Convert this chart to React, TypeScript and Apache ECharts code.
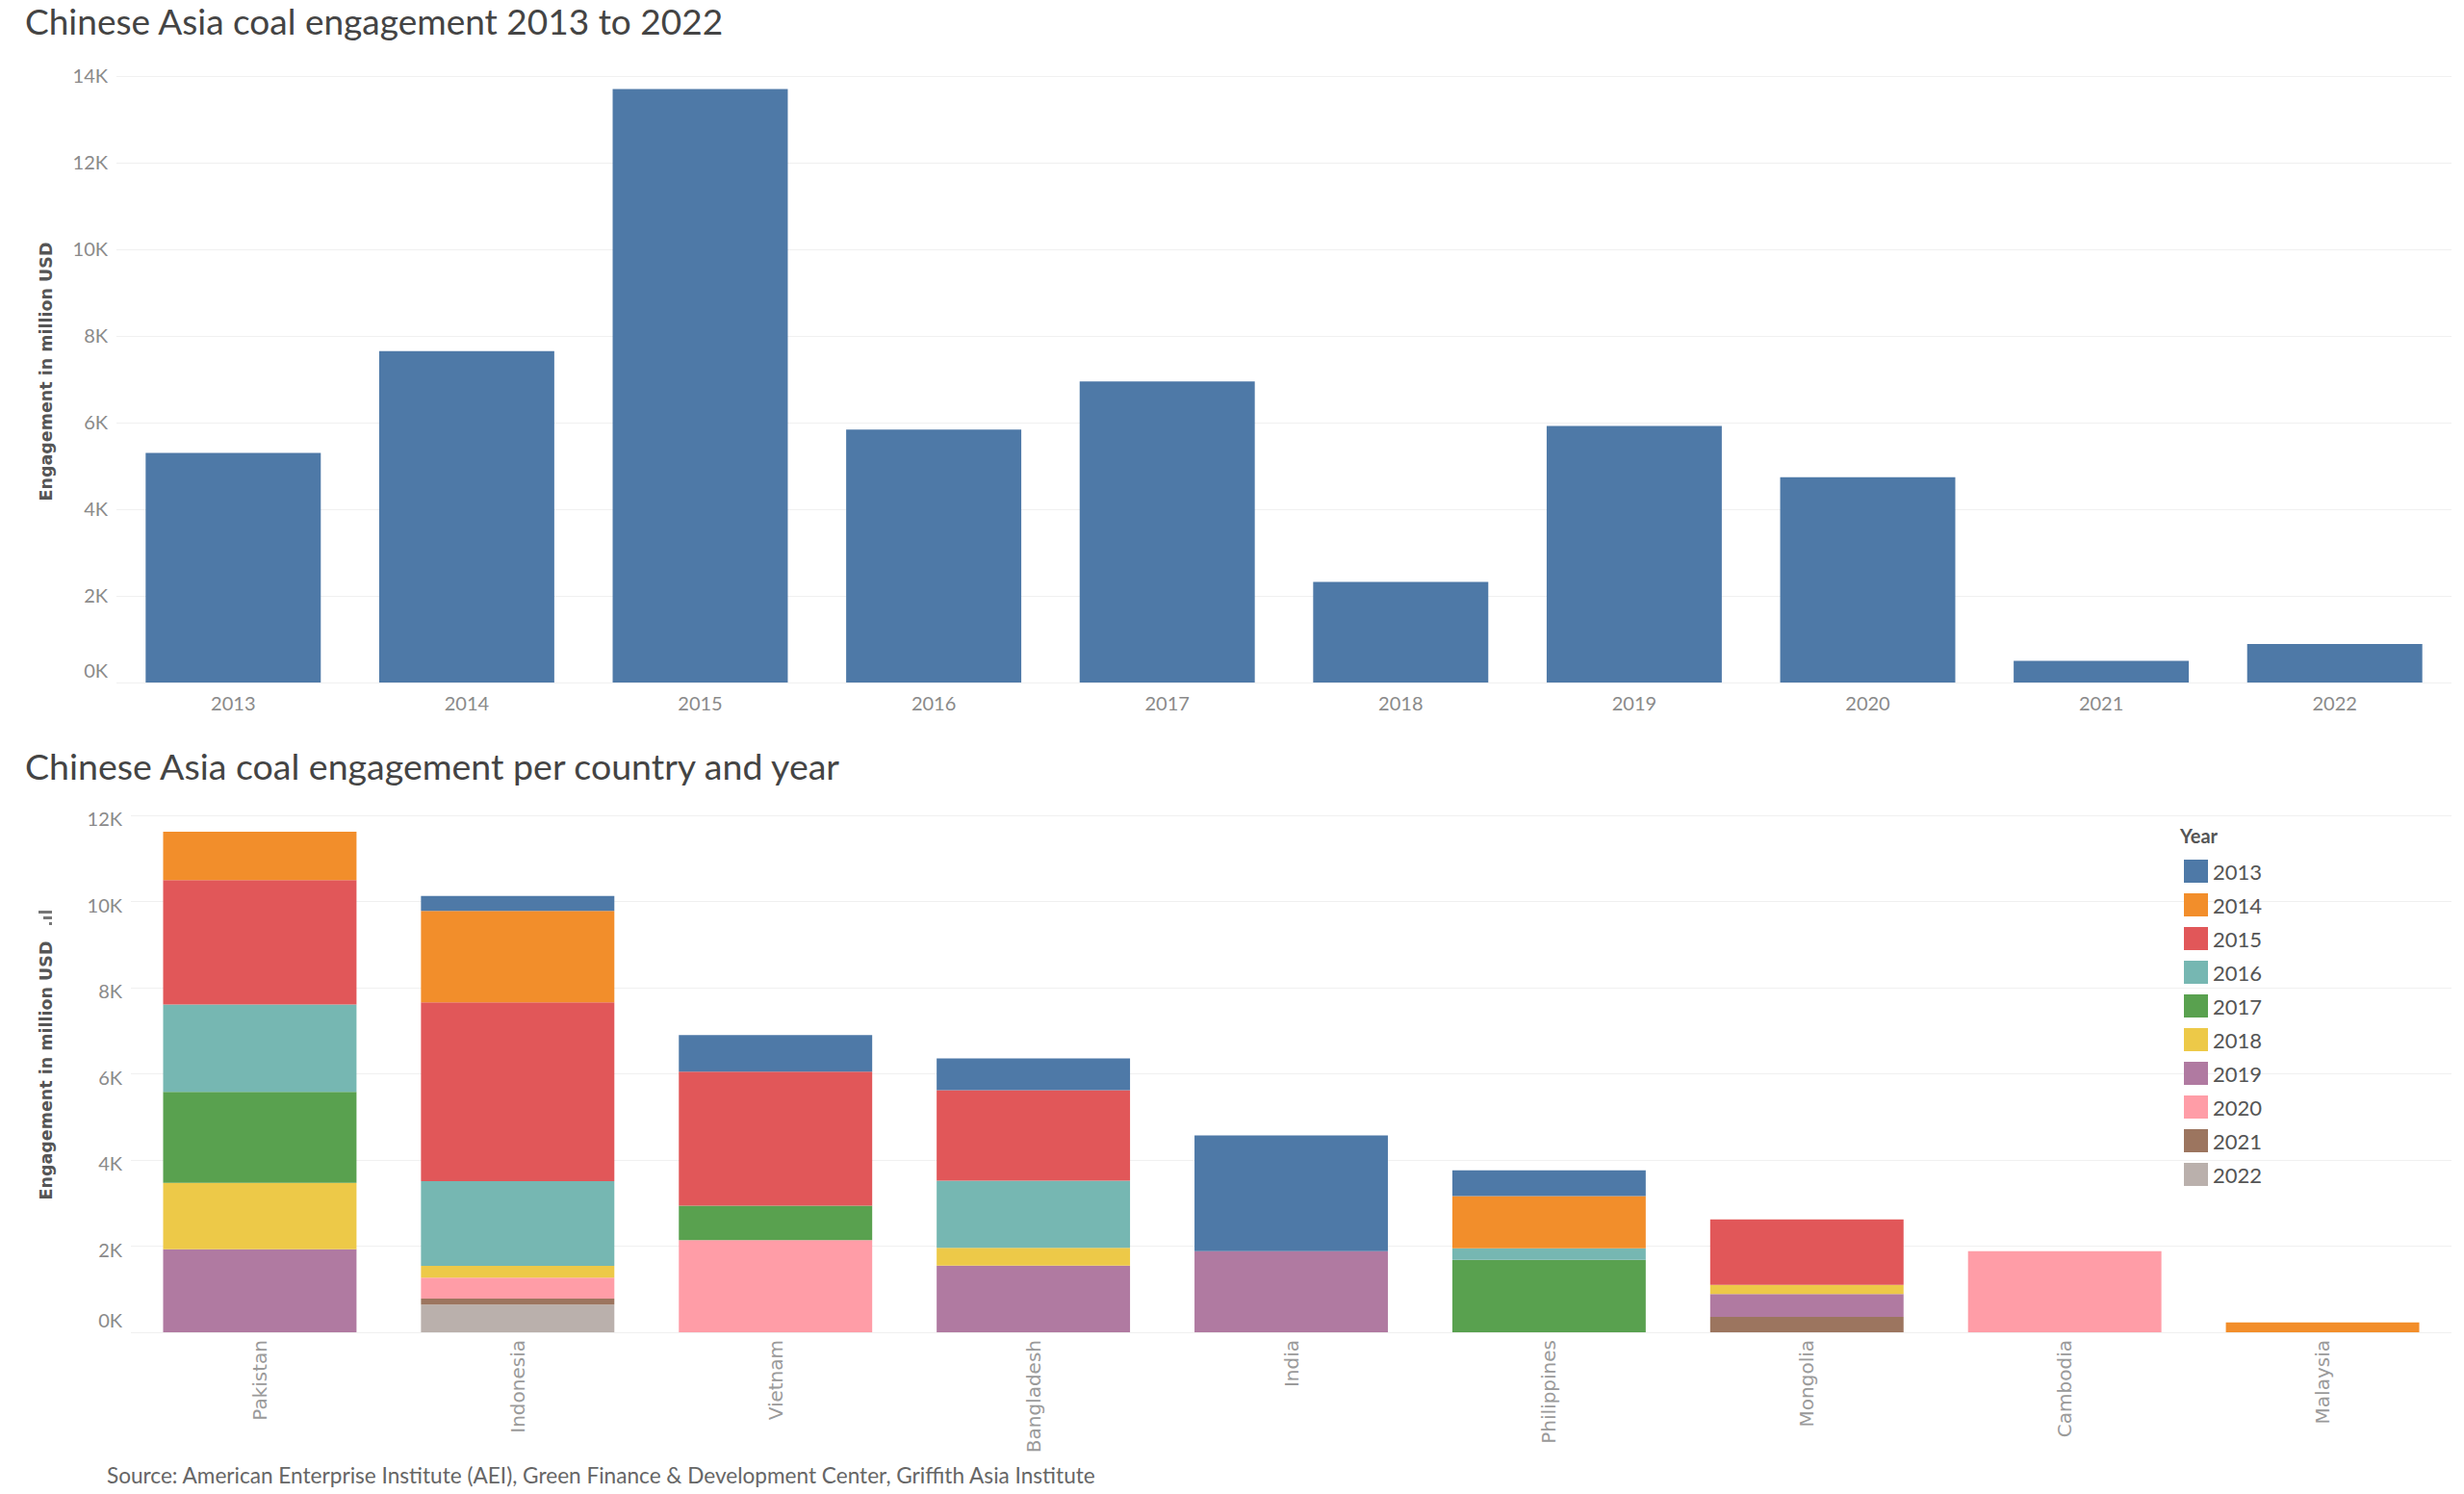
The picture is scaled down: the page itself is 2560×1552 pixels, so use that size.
import React, { useEffect, useRef } from "react";
import * as echarts from "echarts";

const years = ["2013", "2014", "2015", "2016", "2017", "2018", "2019", "2020", "2021", "2022"];
const yearTotals = [5300, 7650, 13700, 5840, 6950, 2320, 5920, 4740, 500, 890];

const countries = ["Pakistan", "Indonesia", "Vietnam", "Bangladesh", "India", "Philippines", "Mongolia", "Cambodia", "Malaysia"];
const v2013 = [0, 350, 850, 740, 2690, 600, 0, 0, 0];
const v2014 = [1120, 2120, 0, 0, 0, 1210, 0, 0, 230];
const v2015 = [2890, 4150, 3110, 2100, 0, 0, 1520, 0, 0];
const v2016 = [2030, 1970, 0, 1560, 0, 270, 0, 0, 0];
const v2017 = [2110, 0, 800, 0, 0, 1680, 0, 0, 0];
const v2018 = [1540, 270, 0, 410, 0, 0, 210, 0, 0];
const v2019 = [1930, 0, 0, 1550, 1880, 0, 530, 0, 0];
const v2020 = [0, 490, 2140, 0, 0, 0, 0, 1880, 0];
const v2021 = [0, 140, 0, 0, 0, 0, 360, 0, 0];
const v2022 = [0, 640, 0, 0, 0, 0, 0, 0, 0];

const yTicksTop = { min: 0, max: 14000, interval: 2000 };
const yTicksBottom = { min: 0, max: 12000, interval: 2000 };

const yearColors = ["#4e79a7", "#f28e2b", "#e15759", "#76b7b2", "#59a14f", "#edc948", "#b07aa1", "#ff9da7", "#9c755f", "#bab0ac"];

const perYear = [v2013, v2014, v2015, v2016, v2017, v2018, v2019, v2020, v2021, v2022];

export default function App() {
  const ref = useRef<HTMLDivElement>(null);
  useEffect(() => {
    if (!ref.current) return;
    const chart = echarts.init(ref.current, undefined, { renderer: "svg" });
    const axisLabelColor = "#8a8a8a";
    const kFmt = (v: number) => (v === 0 ? `{z|0K}` : `{n|${v / 1000}K}`);
    const richTop = {
      n: { fontSize: 20, color: axisLabelColor, fontFamily: "Lato", padding: [0, 0, 2, 0] },
      z: { fontSize: 20, color: axisLabelColor, fontFamily: "Lato", padding: [0, 0, 26, 0] },
    };
    const richBottom = {
      n: { fontSize: 20, color: axisLabelColor, fontFamily: "Lato", padding: [6, 0, 0, 0] },
      z: { fontSize: 20, color: axisLabelColor, fontFamily: "Lato", padding: [0, 0, 26, 0] },
    };
    const stackSeries: any[] = [];
    for (let i = years.length - 1; i >= 0; i--) {
      stackSeries.push({
        name: years[i],
        type: "bar",
        stack: "total",
        xAxisIndex: 1,
        yAxisIndex: 1,
        barCategoryGap: "25%",
        itemStyle: { color: yearColors[i] },
        data: perYear[i],
      });
    }
    const nameStyle = { fontSize: 17.5, fontWeight: "bold", fill: "#555", fontFamily: "DejaVu Sans", textAlign: "center", verticalAlign: "middle" };
    const option: any = {
      animation: false,
      backgroundColor: "#ffffff",
      textStyle: { fontFamily: "Lato" },
      title: [
        {
          text: "Chinese Asia coal engagement 2013 to 2022",
          left: 26,
          top: 3,
          padding: 0,
          textStyle: { fontSize: 37, fontWeight: "normal", color: "#444", fontFamily: "Lato" },
        },
        {
          text: "Chinese Asia coal engagement per country and year",
          left: 26,
          top: 776,
          padding: 0,
          textStyle: { fontSize: 37.5, fontWeight: "normal", color: "#444", fontFamily: "Lato" },
        },
        {
          text: "Source: American Enterprise Institute (AEI), Green Finance & Development Center, Griffith Asia Institute",
          left: 111,
          top: 1521,
          padding: 0,
          textStyle: { fontSize: 22.6, fontWeight: "normal", color: "#666", fontFamily: "Lato" },
        },
      ],
      legend: {
        orient: "vertical",
        left: 2269,
        top: 893,
        padding: 0,
        itemWidth: 25,
        itemHeight: 24,
        itemGap: 11,
        itemTextGap: 9,
        icon: "rect",
        data: years,
        textStyle: { fontSize: 22, color: "#555", fontFamily: "Lato" },
      },
      graphic: [
        {
          type: "text",
          left: 2265,
          top: 858,
          style: { text: "Year", fontSize: 20, fontWeight: "bold", fill: "#555", fontFamily: "Lato" },
        },
        {
          type: "text",
          x: 48,
          y: 386,
          rotation: Math.PI / 2,
          style: { text: "Engagement in million USD", ...nameStyle },
        },
        {
          type: "text",
          x: 48,
          y: 1112,
          rotation: Math.PI / 2,
          style: { text: "Engagement in million USD", ...nameStyle },
        },
        { type: "rect", shape: { x: 40, y: 946, width: 14, height: 3 }, style: { fill: "#777" } },
        { type: "rect", shape: { x: 45, y: 952, width: 9, height: 3 }, style: { fill: "#777" } },
        { type: "rect", shape: { x: 51, y: 958, width: 3, height: 3 }, style: { fill: "#777" } },
      ],
      grid: [
        { left: 121, right: 13, top: 79, height: 630 },
        { left: 136, right: 13, top: 847, height: 537 },
      ],
      xAxis: [
        {
          type: "category",
          gridIndex: 0,
          data: years,
          axisLine: { show: false },
          axisTick: { show: false },
          axisLabel: { color: axisLabelColor, fontSize: 20, margin: 11, fontFamily: "Lato" },
        },
        {
          type: "category",
          gridIndex: 1,
          data: countries,
          axisLine: { show: false },
          axisTick: { show: false },
          axisLabel: { color: "#9a9a9a", fontSize: 20, margin: 8, rotate: 90, fontFamily: "DejaVu Sans" },
        },
      ],
      yAxis: [
        {
          type: "value",
          gridIndex: 0,
          ...yTicksTop,
          axisLine: { show: false },
          axisTick: { show: false },
          splitLine: { lineStyle: { color: "#f0f0f0", width: 1 } },
          axisLabel: { formatter: kFmt, rich: richTop, margin: 9 },
        },
        {
          type: "value",
          gridIndex: 1,
          ...yTicksBottom,
          axisLine: { show: false },
          axisTick: { show: false },
          splitLine: { lineStyle: { color: "#f0f0f0", width: 1 } },
          axisLabel: { formatter: kFmt, rich: richBottom, margin: 9 },
        },
      ],
      series: [
        {
          name: "Total",
          type: "bar",
          xAxisIndex: 0,
          yAxisIndex: 0,
          barCategoryGap: "25%",
          itemStyle: { color: "#4e79a7" },
          data: yearTotals,
        },
        ...stackSeries,
      ],
    };
    chart.setOption(option);
    return () => chart.dispose();
  }, []);
  return (
    <div
      ref={ref}
      style={{ position: "fixed", left: 0, top: 0, width: "2560px", height: "1552px" }}
    />
  );
}
